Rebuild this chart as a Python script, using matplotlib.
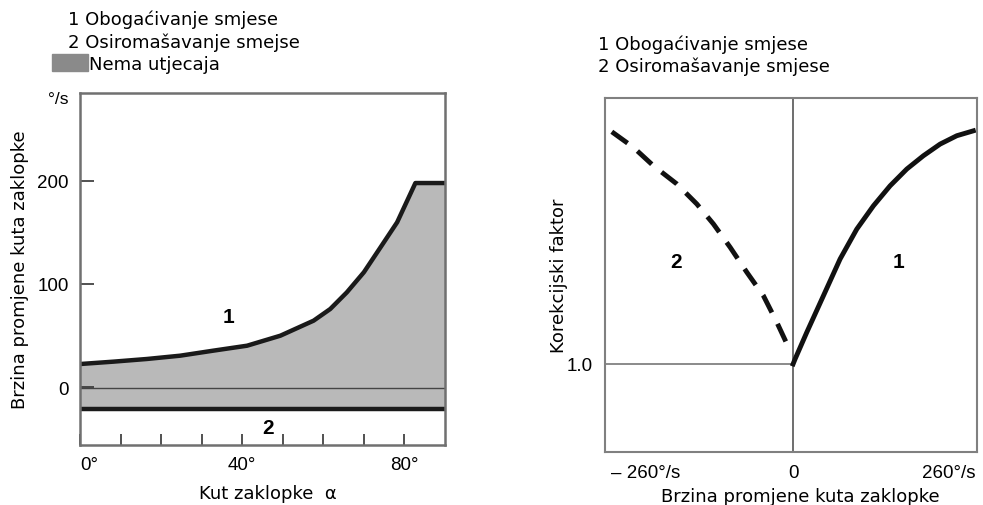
import matplotlib
matplotlib.use("Agg")
import matplotlib.pyplot as plt
import matplotlib.patches as mpatches
import numpy as np

# left chart: throttle rate limit vs throttle angle
alpha = [0, 8.2, 16.5, 24.7, 32.9, 41.2, 49.4, 57.6, 61.7, 65.8, 70.0, 74.1, 78.2, 82.7, 90]
upper = [22.3, 24.6, 27.2, 30.4, 35.3, 40.1, 49.8, 64.4, 75.7, 91.9, 111.4, 135.6, 159.9, 198, 198]
lower = [-21] * len(alpha)

# right chart: correction factor vs throttle rate
rate_lean = [-258.3, -227.5, -199.0, -165.7, -137.2, -113.5, -89.7, -66.0, -42.3, -23.2, -4.3]
fac_lean = [1.997, 1.930, 1.851, 1.773, 1.687, 1.601, 1.501, 1.394, 1.293, 1.179, 1.057]
rate_rich = [0, 2.8, 19.5, 43.2, 67.0, 90.7, 114.4, 138.2, 162.0, 185.6, 209.4, 233.2, 256.8]
fac_rich = [1.0, 1.021, 1.136, 1.293, 1.451, 1.579, 1.679, 1.765, 1.837, 1.894, 1.944, 1.980, 2.001]

legend_lines = ["1 Obogaćivanje smjese", "2 Osiromašavanje smejse"]
legend_lines_r = ["1 Obogaćivanje smjese", "2 Osiromašavanje smjese"]

fig = plt.figure(figsize=(9.83, 5.06), dpi=100)
tickfont = "Liberation Sans"
fs = 13

# ---- left
ax = fig.add_axes([80/983, 1-446/506, 365/983, 352/506])
ax.fill_between(alpha, lower, upper, color="#b9b9b9", lw=0)
ax.plot(alpha, upper, color="#1a1a1a", lw=3.2, solid_capstyle="butt", solid_joinstyle="round")
ax.plot(alpha, lower, color="#1a1a1a", lw=3.2, solid_capstyle="butt")
ax.axhline(-1, color="#444444", lw=1)
ax.set_xlim(0, 90)
ax.set_ylim(-56.3, 285.4)
ax.set_xticks([0, 40, 80])
xl = ax.set_xticklabels(["0°", "40°", "80°"], fontfamily=tickfont, fontsize=13.5)
xl[0].set_ha("left")
ax.set_xticks(np.arange(10, 90, 10), minor=True)
ax.set_yticks([0, 100, 200])
ax.set_yticklabels(["0", "100", "200"], fontfamily=tickfont, fontsize=13.5)
ax.tick_params(axis="x", which="both", direction="in", length=8, width=1.2, color="#333333", pad=8)
ax.tick_params(axis="y", direction="in", length=10, width=1.2, color="#333333", pad=8)
for s in ax.spines.values():
    s.set_color("#707070")
    s.set_linewidth(1.8)
ax.text(48/983, 1-100/506, "°/s", transform=fig.transFigure, fontfamily=tickfont,
        fontsize=12.5, va="center", ha="left")
ax.text(36.5, 68, "1", fontfamily=tickfont, fontsize=15, fontweight="bold", ha="center", va="center")
ax.text(46.4, -39, "2", fontfamily=tickfont, fontsize=15, fontweight="bold", ha="center", va="center")
ax.set_ylabel("Brzina promjene kuta zaklopke", fontsize=fs)
ax.yaxis.set_label_coords(-0.14, 0.5)
ax.set_xlabel("Kut zaklopke  α", fontsize=fs)
ax.xaxis.set_label_coords(0.515, -0.11)

fig.text(68/983, 1-20/506, legend_lines[0], fontsize=fs, va="center")
fig.text(68/983, 1-43/506, legend_lines[1], fontsize=fs, va="center")
fig.patches.append(mpatches.Rectangle((52/983, 1-72/506), 36/983, 17/506,
                                      transform=fig.transFigure, color="#8a8a8a"))
fig.text(89/983, 1-65/506, "Nema utjecaja", fontsize=fs, va="center")

# ---- right
ax2 = fig.add_axes([605/983, 1-453/506, 372/983, 354/506])
ax2.set_xlim(-268, 262)
ax2.set_ylim(0.622, 2.142)
ax2.axvline(0, color="#555555", lw=1.2)
ax2.plot([-268, 0], [1.0, 1.0], color="#777777", lw=1.2)
ax2.plot(rate_lean, fac_lean, color="#111111", lw=3.5, ls=(0, (4, 2.6)))
ax2.plot(rate_rich, fac_rich, color="#111111", lw=3.5, solid_joinstyle="round")
ax2.set_xticks([-260, 0, 260])
labs = ax2.set_xticklabels(["– 260°/s", "0", "260°/s"], fontfamily=tickfont, fontsize=13.5)
labs[0].set_ha("left")
labs[2].set_ha("right")
ax2.set_yticks([1.0])
ax2.set_yticklabels(["1.0"], fontfamily=tickfont, fontsize=13.5)
ax2.tick_params(length=0, pad=9)
for s in ax2.spines.values():
    s.set_color("#808080")
    s.set_linewidth(1.5)
ax2.text(-167, 1.44, "2", fontfamily=tickfont, fontsize=15, fontweight="bold", ha="center", va="center")
ax2.text(150, 1.44, "1", fontfamily=tickfont, fontsize=15, fontweight="bold", ha="center", va="center")
ax2.set_ylabel("Korekcijski faktor", fontsize=fs)
ax2.yaxis.set_label_coords(-0.10, 0.5)
ax2.set_xlabel("Brzina promjene kuta zaklopke", fontsize=fs)
ax2.xaxis.set_label_coords(0.524, -0.10)

fig.text(598/983, 1-45/506, legend_lines_r[0], fontsize=fs, va="center")
fig.text(598/983, 1-67/506, legend_lines_r[1], fontsize=fs, va="center")

fig.savefig("out.png", dpi=100)
